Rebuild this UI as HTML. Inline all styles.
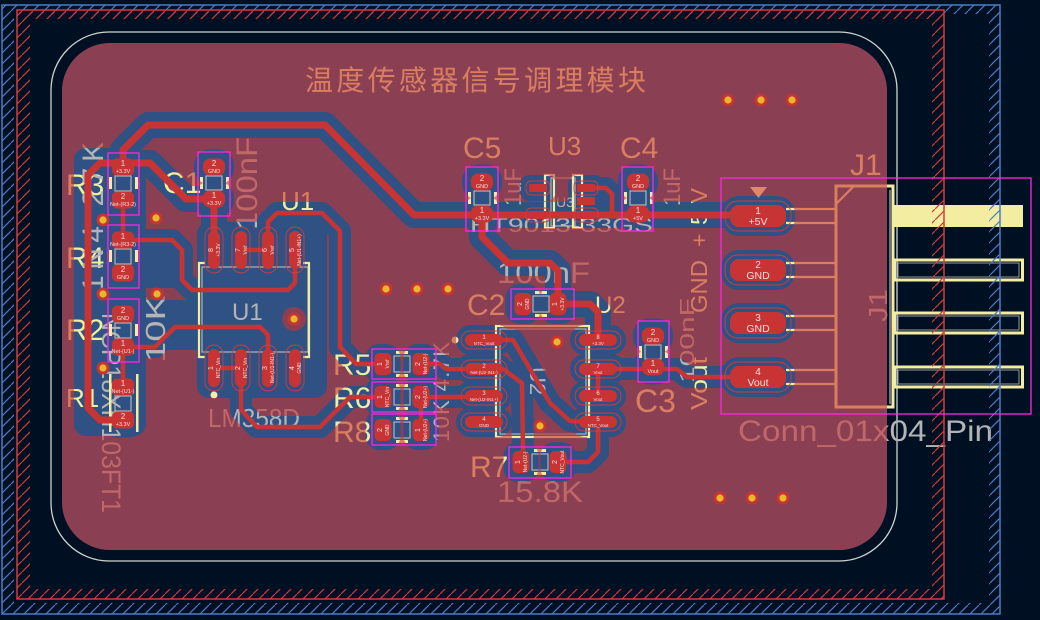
<!DOCTYPE html>
<html><head><meta charset="utf-8"><style>
html,body{margin:0;padding:0;background:#001023;}
svg{display:block;}
text{font-family:"Liberation Sans","Noto Sans CJK SC",sans-serif;}
</style></head><body>
<svg width="1040" height="620" viewBox="0 0 1040 620" xmlns="http://www.w3.org/2000/svg" xmlns:xlink="http://www.w3.org/1999/xlink">
<defs>
<pattern id="hb" patternUnits="userSpaceOnUse" width="11" height="11"><path d="M-2,13 L13,-2" stroke="#4b7cc4" stroke-width="1.2"/></pattern>
<pattern id="hr" patternUnits="userSpaceOnUse" width="11" height="11"><path d="M-2,13 L13,-2" stroke="#d23a3a" stroke-width="1.2"/></pattern>
<g id="thick">
 <path d="M123,167 L123,150 L148,125 L325,125 L414,215 L760,215"/>
 <path d="M123,420 L100,420 L88,408 L88,175 L100,163 L150,163 L186,199 L214,199 L214,250"/>
 <path d="M482,214 L482,237 L508,263 L550,263 L558,271 L558,304"/>
 <path d="M558,304 L590,304 L598,312 L598,340"/>
</g>
<g id="thin">
 <path d="M241,250 L268,250"/>
 <path d="M268,250 L268,222 L277,213 L322,213 L340,231 L340,347 L356,364 L383,364"/>
 <path d="M295,252 L295,283 L288,290 L192,290 L182,280 L182,250 L172,240 L123,240"/>
 <path d="M123,347 L155,347 L175,327 L260,327 L268,335 L268,368"/>
 <path d="M214,368 L241,368"/>
 <path d="M241,368 L241,410 L257,427 L320,427 L350,397 L383,397"/>
 <path d="M421,364 L440,364 L446,369 L503,369 L522,383 L523,450 L521,462"/>
 <path d="M421,397 L484,397"/>
 <path d="M421,397 L421,430"/>
 <path d="M484,340 L513,340 L550,403 L570,421 L598,422"/>
 <path d="M598,422 L598,452 L588,462 L558,462"/>
 <path d="M598,369 L677,369 L687,377 L758,377"/>
 <path d="M598,369 L598,396"/>
 <path d="M123,200 L123,240"/>
 <path d="M123,347 L123,387"/>
 <path d="M586,188 L606,188 L612,194 L612,214"/>
</g>
<g id="pads">
 <rect x="112" y="158.5" width="22" height="17" rx="5"/>
 <rect x="112" y="191.5" width="22" height="17" rx="5"/>
 <rect x="112" y="231.5" width="22" height="17" rx="5"/>
 <rect x="112" y="264.5" width="22" height="17" rx="5"/>
 <rect x="112" y="305.5" width="22" height="17" rx="5"/>
 <rect x="112" y="338.5" width="22" height="17" rx="5"/>
 <rect x="112" y="378.5" width="22" height="17" rx="5"/>
 <rect x="112" y="411.5" width="22" height="17" rx="5"/>
 <rect x="203" y="158.5" width="22" height="17" rx="7"/>
 <rect x="203" y="190.5" width="22" height="17" rx="7"/>
 <rect x="471" y="173.5" width="22" height="17" rx="7"/>
 <rect x="471" y="205.5" width="22" height="17" rx="7"/>
 <rect x="627" y="173.5" width="22" height="17" rx="7"/>
 <rect x="627" y="205.5" width="22" height="17" rx="7"/>
 <rect x="642" y="327.5" width="22" height="17" rx="7"/>
 <rect x="642" y="358.5" width="22" height="17" rx="7"/>
 <rect x="374.5" y="353" width="17" height="22" rx="5"/>
 <rect x="412.5" y="353" width="17" height="22" rx="5"/>
 <rect x="374.5" y="386" width="17" height="22" rx="5"/>
 <rect x="412.5" y="386" width="17" height="22" rx="5"/>
 <rect x="374.5" y="419" width="17" height="22" rx="5"/>
 <rect x="412.5" y="419" width="17" height="22" rx="5"/>
 <rect x="514.5" y="293" width="17" height="22" rx="5"/>
 <rect x="549.5" y="293" width="17" height="22" rx="5"/>
 <rect x="512.5" y="451" width="17" height="22" rx="5"/>
 <rect x="549.5" y="451" width="17" height="22" rx="5"/>
 <rect x="208" y="231" width="12" height="38" rx="6"/>
 <rect x="235" y="231" width="12" height="38" rx="6"/>
 <rect x="262" y="231" width="12" height="38" rx="6"/>
 <rect x="289" y="231" width="12" height="38" rx="6"/>
 <rect x="208" y="349" width="12" height="38" rx="6"/>
 <rect x="235" y="349" width="12" height="38" rx="6"/>
 <rect x="262" y="349" width="12" height="38" rx="6"/>
 <rect x="289" y="349" width="12" height="38" rx="6"/>
 <rect x="465" y="334" width="38" height="12" rx="6"/>
 <rect x="465" y="363" width="38" height="12" rx="6"/>
 <rect x="465" y="390" width="38" height="12" rx="6"/>
 <rect x="465" y="416" width="38" height="12" rx="6"/>
 <rect x="579" y="334" width="38" height="12" rx="6"/>
 <rect x="579" y="363" width="38" height="12" rx="6"/>
 <rect x="579" y="390" width="38" height="12" rx="6"/>
 <rect x="579" y="416" width="38" height="12" rx="6"/>
 <rect x="529" y="184" width="18" height="8" rx="1"/>
 <rect x="529" y="211" width="18" height="8" rx="1"/>
 <rect x="577" y="184" width="18" height="8" rx="1"/>
 <rect x="577" y="197" width="18" height="8" rx="1"/>
 <rect x="577" y="211" width="18" height="8" rx="1"/>
 <rect x="730" y="205" width="56" height="22" rx="9"/>
 <rect x="730" y="259" width="56" height="22" rx="9"/>
 <rect x="730" y="312" width="56" height="22" rx="9"/>
 <rect x="730" y="366" width="56" height="22" rx="9"/>
</g>
<mask id="zm" maskUnits="userSpaceOnUse" x="0" y="0" width="1040" height="620">
 <rect width="1040" height="620" fill="#fff"/>
 <use xlink:href="#thick" fill="none" stroke="#000" stroke-width="26" stroke-linecap="round" stroke-linejoin="round"/>
 <use xlink:href="#thin" fill="none" stroke="#000" stroke-width="22" stroke-linecap="round" stroke-linejoin="round"/>
 <use xlink:href="#pads" fill="#000" stroke="#000" stroke-width="18" stroke-linejoin="round"/>
 <!-- extra cleared regions -->
 <rect x="74" y="148" width="72" height="288" rx="12" fill="#000"/>
 <rect x="140" y="244" width="44" height="44" fill="#000"/>
 <rect x="140" y="300" width="60" height="50" fill="#000"/>
 <rect x="197" y="222" width="130" height="176" rx="12" fill="#000"/>
 <circle cx="294" cy="319" r="12" fill="#fff"/>
</mask>
</defs>

<rect width="1040" height="620" fill="#001023"/>

<!-- board edge -->
<rect x="51" y="32" width="846" height="529" rx="58" ry="58" fill="none" stroke="#d0d2cd" stroke-width="1.3"/>

<!-- B.Cu blue -->
<rect x="62" y="43" width="825" height="507" rx="48" ry="48" fill="#2f5183"/>

<!-- ===== under-zone layers: silk / fab ===== -->
<g>
 <text x="305" y="90" font-size="28" fill="#f2eda1" textLength="341" lengthAdjust="spacing">温度传感器信号调理模块</text>
 <g fill="#f2eda1">
  <text x="66" y="195" font-size="30">R3</text>
  <text x="66" y="268" font-size="30">R4</text>
  <text x="66" y="340" font-size="30">R2</text>
  <text x="66" y="407" font-size="26">R1</text>
  <text x="163" y="193" font-size="30">C1</text>
  <text x="281" y="210" font-size="26">U1</text>
  <text x="333" y="375" font-size="30">R5</text>
  <text x="333" y="408" font-size="30">R6</text>
  <text x="333" y="442" font-size="30">R8</text>
  <text x="467" y="315" font-size="30">C2</text>
  <text x="595" y="313" font-size="24">U2</text>
  <text x="470" y="477" font-size="30">R7</text>
  <text x="635" y="412" font-size="32">C3</text>
  <text x="463" y="158" font-size="30">C5</text>
  <text x="548" y="155" font-size="26">U3</text>
  <text x="620" y="158" font-size="30">C4</text>
  <text x="850" y="175" font-size="30">J1</text>
  <text transform="translate(707,410) rotate(-90)" font-size="23" textLength="53" lengthAdjust="spacingAndGlyphs">Vout</text>
  <text transform="translate(707,313) rotate(-90)" font-size="23" textLength="53" lengthAdjust="spacingAndGlyphs">GND</text>
  <text transform="translate(707,247) rotate(-90)" font-size="23" textLength="59" lengthAdjust="spacing">+5V</text>
 </g>
 <g fill="#b4b4b4">
  <text transform="translate(257,230) rotate(-90)" font-size="30" textLength="93" lengthAdjust="spacingAndGlyphs">100nF</text>
  <text x="232" y="320" font-size="24">U1</text>
  <text x="208" y="427" font-size="26" textLength="92" lengthAdjust="spacingAndGlyphs">LM358D</text>
  <text transform="translate(165,363) rotate(-90)" font-size="28" textLength="68" lengthAdjust="spacingAndGlyphs">10K</text>
  <text transform="translate(103,292) rotate(-90)" font-size="30" textLength="150" lengthAdjust="spacing">1N4.27K</text>
  <text transform="translate(102,313) rotate(90)" font-size="27" textLength="200" lengthAdjust="spacingAndGlyphs">NCP18XH103FT1</text>
  <text transform="translate(449,442) rotate(-90)" font-size="22" textLength="100" lengthAdjust="spacing">10K 4.7K</text>
  <text x="497" y="283" font-size="30" textLength="93" lengthAdjust="spacingAndGlyphs">100nF</text>
  <text transform="translate(530,367) rotate(90)" font-size="22">U2</text>
  <text x="497" y="502" font-size="30" textLength="86" lengthAdjust="spacingAndGlyphs">15.8K</text>
  <text transform="translate(521,206) rotate(-90)" font-size="24" textLength="38" lengthAdjust="spacingAndGlyphs">1uF</text>
  <text transform="translate(680,206) rotate(-90)" font-size="24" textLength="38" lengthAdjust="spacingAndGlyphs">1uF</text>
  <text transform="translate(694,383) rotate(-90)" font-size="20" textLength="85" lengthAdjust="spacingAndGlyphs">100nF</text>
  <text x="470" y="232" font-size="20" textLength="183" lengthAdjust="spacingAndGlyphs">HT9013-33GS</text>
  <text x="556" y="207" font-size="14">U3</text>
  <text x="738" y="441" font-size="30" textLength="255" lengthAdjust="spacingAndGlyphs">Conn_01x04_Pin</text>
  <text transform="translate(887,322) rotate(-90)" font-size="26" textLength="33" lengthAdjust="spacingAndGlyphs">J1</text>
 </g>
 <!-- small part bodies -->
 <g fill="none" stroke="#b4b4b4" stroke-width="1.2">
  <rect x="115" y="176" width="16" height="15"/>
  <rect x="115" y="249" width="16" height="15"/>
  <rect x="115" y="323" width="16" height="15"/>
  <rect x="115" y="396" width="16" height="15"/>
  <rect x="206" y="176" width="16" height="14"/>
  <rect x="474" y="191" width="16" height="14"/>
  <rect x="630" y="191" width="16" height="14"/>
  <rect x="645" y="345" width="16" height="14"/>
  <rect x="394" y="356" width="16" height="16"/>
  <rect x="394" y="389" width="16" height="16"/>
  <rect x="394" y="422" width="16" height="16"/>
  <rect x="533" y="296" width="16" height="16"/>
  <rect x="532" y="454" width="16" height="16"/>
  <rect x="202" y="267" width="106" height="85"/>
  <rect x="500" y="329" width="86" height="105"/>
  <rect x="551" y="178" width="24" height="48"/>
  <line x1="890" y1="190" x2="890" y2="404"/>
 </g>
 <g fill="#f2eda1">
  <rect x="109" y="177" width="3" height="12"/><rect x="135" y="177" width="3" height="12"/>
  <rect x="109" y="250" width="3" height="12"/><rect x="135" y="250" width="3" height="12"/>
  <rect x="109" y="324" width="3" height="12"/><rect x="135" y="324" width="3" height="12"/>
  <rect x="109" y="374" width="2.5" height="58"/><rect x="136" y="374" width="2.5" height="58"/>
  <rect x="200" y="177" width="3" height="12"/><rect x="226" y="177" width="3" height="12"/>
  <rect x="468" y="192" width="3" height="12"/><rect x="494" y="192" width="3" height="12"/>
  <rect x="624" y="192" width="3" height="12"/><rect x="650" y="192" width="3" height="12"/>
  <rect x="639" y="346" width="3" height="12"/><rect x="665" y="346" width="3" height="12"/>
  <rect x="396" y="351" width="12" height="3"/><rect x="396" y="374" width="12" height="3"/>
  <rect x="396" y="384" width="12" height="3"/><rect x="396" y="407" width="12" height="3"/>
  <rect x="396" y="417" width="12" height="3"/><rect x="396" y="440" width="12" height="3"/>
  <rect x="535" y="291" width="12" height="3"/><rect x="535" y="314" width="12" height="3"/>
  <rect x="534" y="449" width="12" height="3"/><rect x="534" y="472" width="12" height="3"/>
  <circle cx="214" cy="395" r="3.5"/>
  <circle cx="455" cy="340" r="3.5"/>
 </g>
 <g fill="none" stroke="#f2eda1" stroke-width="2.2">
  <path d="M205,263 H199 V357 H205"/>
  <path d="M303,263 H309 V357 H303"/>
  <rect x="496" y="326" width="93" height="111"/>
  <rect x="545" y="175" width="9" height="53"/>
  <rect x="573" y="175" width="9" height="53"/>
  <path d="M786,209 H836 M786,223 H836 M786,263 H836 M786,277 H836 M786,316 H836 M786,330 H836 M786,370 H836 M786,384 H836"/>
  <path d="M836,204 L853,187"/>
 </g>
 <rect x="836" y="186" width="57" height="221" fill="none" stroke="#f2eda1" stroke-width="3"/>
 <!-- J1 external pins -->
 <rect x="893" y="205" width="130" height="22" fill="#f2eda1"/>
 <g fill="none" stroke="#f2eda1" stroke-width="3">
  <rect x="894.5" y="260" width="128" height="20"/>
  <rect x="894.5" y="313" width="128" height="20"/>
  <rect x="894.5" y="367" width="128" height="20"/>
 </g>
 <g fill="none" stroke="#9a9a9a" stroke-width="1">
  <rect x="898" y="263" width="121" height="14"/>
  <rect x="898" y="316" width="121" height="14"/>
  <rect x="898" y="370" width="121" height="14"/>
 </g>
</g>

<!-- F.Cu zone -->
<rect x="62" y="43" width="825" height="507" rx="48" ry="48" fill="#c83434" fill-opacity="0.6" mask="url(#zm)"/>

<!-- traces -->
<use xlink:href="#thick" fill="none" stroke="#c83434" stroke-width="7" stroke-linecap="round" stroke-linejoin="round"/>
<use xlink:href="#thin" fill="none" stroke="#c83434" stroke-width="4.5" stroke-linecap="round" stroke-linejoin="round"/>
<!-- pads -->
<use xlink:href="#pads" fill="#c83434"/>
<!-- pad outlines -->
<g fill="none" stroke="#d23c3c" stroke-width="0.9">
 <rect x="205" y="227" width="18" height="46" rx="9"/><rect x="232" y="227" width="18" height="46" rx="9"/>
 <rect x="259" y="227" width="18" height="46" rx="9"/><rect x="286" y="227" width="18" height="46" rx="9"/>
 <rect x="205" y="345" width="18" height="46" rx="9"/><rect x="232" y="345" width="18" height="46" rx="9"/>
 <rect x="259" y="345" width="18" height="46" rx="9"/><rect x="286" y="345" width="18" height="46" rx="9"/>
 <rect x="461" y="331" width="46" height="18" rx="9"/><rect x="461" y="360" width="46" height="18" rx="9"/>
 <rect x="461" y="387" width="46" height="18" rx="9"/><rect x="461" y="413" width="46" height="18" rx="9"/>
 <rect x="575" y="331" width="46" height="18" rx="9"/><rect x="575" y="360" width="46" height="18" rx="9"/>
 <rect x="575" y="387" width="46" height="18" rx="9"/><rect x="575" y="413" width="46" height="18" rx="9"/>
 <rect x="725" y="201" width="66" height="30" rx="13"/><rect x="725" y="255" width="66" height="30" rx="13"/>
 <rect x="725" y="308" width="66" height="30" rx="13"/><rect x="725" y="362" width="66" height="30" rx="13"/>
 <rect x="526" y="181" width="24" height="14" rx="5"/><rect x="526" y="208" width="24" height="14" rx="5"/>
 <rect x="574" y="181" width="24" height="14" rx="5"/><rect x="574" y="208" width="24" height="14" rx="5"/>
</g>
<!-- J1 pin1 marker -->
<polygon points="750,187 767,187 758.5,198" fill="#e08a62"/>

<!-- vias -->
<g>
 <g fill="#c83434">
  <circle cx="728" cy="100" r="6.5"/><circle cx="761" cy="100" r="6.5"/><circle cx="792" cy="100" r="6.5"/>
  <circle cx="386" cy="289" r="6.5"/><circle cx="417" cy="289" r="6.5"/><circle cx="448" cy="289" r="6.5"/>
  <circle cx="103" cy="220" r="6.5"/><circle cx="156" cy="218" r="6.5"/><circle cx="103" cy="294" r="6.5"/>
  <circle cx="157" cy="294" r="6.5"/><circle cx="103" cy="368" r="6.5"/><circle cx="294" cy="319" r="6.5"/>
  <circle cx="557" cy="342" r="6.5"/><circle cx="540" cy="426" r="6.5"/>
  <circle cx="720" cy="498" r="6.5"/><circle cx="752" cy="498" r="6.5"/><circle cx="783" cy="498" r="6.5"/>
 </g>
 <g fill="#e6b82a">
  <circle cx="728" cy="100" r="3.6"/><circle cx="761" cy="100" r="3.6"/><circle cx="792" cy="100" r="3.6"/>
  <circle cx="386" cy="289" r="3.6"/><circle cx="417" cy="289" r="3.6"/><circle cx="448" cy="289" r="3.6"/>
  <circle cx="103" cy="220" r="3.6"/><circle cx="156" cy="218" r="3.6"/><circle cx="103" cy="294" r="3.6"/>
  <circle cx="157" cy="294" r="3.6"/><circle cx="103" cy="368" r="3.6"/><circle cx="294" cy="319" r="3.6"/>
  <circle cx="557" cy="342" r="3.6"/><circle cx="540" cy="426" r="3.6"/>
  <circle cx="720" cy="498" r="3.6"/><circle cx="752" cy="498" r="3.6"/><circle cx="783" cy="498" r="3.6"/>
 </g>
</g>

<!-- pad labels -->
<g fill="#f4dede" text-anchor="middle">
 <g font-size="8">
  <text x="123" y="166">1</text><text x="123" y="199">2</text>
  <text x="123" y="239">1</text><text x="123" y="272">2</text>
  <text x="123" y="313">2</text><text x="123" y="346">1</text>
  <text x="123" y="386">1</text><text x="123" y="419">2</text>
  <text x="214" y="166">2</text><text x="214" y="198">1</text>
  <text x="482" y="181">2</text><text x="482" y="213">1</text>
  <text x="638" y="181">2</text><text x="638" y="213">1</text>
  <text x="653" y="335">2</text><text x="653" y="366">1</text>
 </g>
 <g font-size="5.5">
  <text x="123" y="173">+3.3V</text><text x="123" y="206">Net-(R3-2)</text>
  <text x="123" y="246">Net-(R3-2)</text><text x="123" y="279">GND</text>
  <text x="123" y="320">GND</text><text x="123" y="353">Net-(U1-)</text>
  <text x="123" y="393">Net-(U1-)</text><text x="123" y="426">+3.3V</text>
  <text x="214" y="173">GND</text><text x="214" y="205">+3.3V</text>
  <text x="482" y="188">GND</text><text x="482" y="220">+3.3V</text>
  <text x="638" y="188">GND</text><text x="638" y="220">+5V</text>
  <text x="653" y="342">GND</text><text x="653" y="373">Vout</text>
 </g>
 <g font-size="10">
  <text x="758" y="214">1</text><text x="758" y="268">2</text><text x="758" y="321">3</text><text x="758" y="375">4</text>
 </g>
 <g font-size="10.5">
  <text x="758" y="225">+5V</text><text x="758" y="279">GND</text><text x="758" y="332">GND</text><text x="758" y="386">Vout</text>
 </g>
 <g font-size="6">
  <text x="484" y="339">1</text><text x="484" y="368">2</text><text x="484" y="395">3</text><text x="484" y="421">4</text>
  <text x="598" y="339">8</text><text x="598" y="368">7</text><text x="598" y="395">6</text><text x="598" y="421">5</text>
 </g>
 <g font-size="4.5">
  <text x="484" y="345">NTC_Vout</text><text x="484" y="374">Net-(U2-IN1-)</text><text x="484" y="401">Net-(U2-IN1+)</text><text x="484" y="427">GND</text>
  <text x="598" y="345">+3.3V</text><text x="598" y="374">Vout</text><text x="598" y="401">Vout</text><text x="598" y="427">NTC_Vout</text>
 </g>
 <g font-size="7">
  <text transform="translate(383,364) rotate(-90)" y="-1">1</text>
  <text transform="translate(421,364) rotate(-90)" y="-1">2</text>
  <text transform="translate(383,397) rotate(-90)" y="-1">1</text>
  <text transform="translate(421,397) rotate(-90)" y="-1">2</text>
  <text transform="translate(383,430) rotate(-90)" y="-1">2</text>
  <text transform="translate(421,430) rotate(-90)" y="-1">1</text>
  <text transform="translate(523,304) rotate(-90)" y="-1">2</text>
  <text transform="translate(558,304) rotate(-90)" y="-1">1</text>
  <text transform="translate(521,462) rotate(-90)" y="-1">1</text>
  <text transform="translate(558,462) rotate(-90)" y="-1">2</text>
  <text transform="translate(214,250) rotate(-90)" y="-1">8</text>
  <text transform="translate(241,250) rotate(-90)" y="-1">7</text>
  <text transform="translate(268,250) rotate(-90)" y="-1">6</text>
  <text transform="translate(295,250) rotate(-90)" y="-1">5</text>
  <text transform="translate(214,368) rotate(-90)" y="-1">1</text>
  <text transform="translate(241,368) rotate(-90)" y="-1">2</text>
  <text transform="translate(268,368) rotate(-90)" y="-1">3</text>
  <text transform="translate(295,368) rotate(-90)" y="-1">4</text>
 </g>
 <g font-size="5">
  <text transform="translate(383,364) rotate(-90)" y="6">Vref</text>
  <text transform="translate(421,364) rotate(-90)" y="6">Net-(U2-)</text>
  <text transform="translate(383,397) rotate(-90)" y="6">NTC_Vin</text>
  <text transform="translate(421,397) rotate(-90)" y="6">Net-(U2+)</text>
  <text transform="translate(383,430) rotate(-90)" y="6">GND</text>
  <text transform="translate(421,430) rotate(-90)" y="6">Net-(U2+)</text>
  <text transform="translate(523,304) rotate(-90)" y="6">GND</text>
  <text transform="translate(558,304) rotate(-90)" y="6">+3.3V</text>
  <text transform="translate(521,462) rotate(-90)" y="6">Net-(U2-)</text>
  <text transform="translate(558,462) rotate(-90)" y="6">NTC_Vout</text>
  <text transform="translate(214,250) rotate(-90)" y="6">+3.3V</text>
  <text transform="translate(241,250) rotate(-90)" y="6">Vref</text>
  <text transform="translate(268,250) rotate(-90)" y="6">Vref</text>
  <text transform="translate(295,250) rotate(-90)" y="6">Net-(U1-IN1+)</text>
  <text transform="translate(214,368) rotate(-90)" y="6">NTC_Vin</text>
  <text transform="translate(241,368) rotate(-90)" y="6">NTC_Vin</text>
  <text transform="translate(268,368) rotate(-90)" y="6">Net-(U1-IN1-)</text>
  <text transform="translate(295,368) rotate(-90)" y="6">GND</text>
 </g>
</g>

<!-- hatched keep-out borders -->
<path d="M2,5 H1000 V614 H2 Z M14,14 H989 V603 H14 Z" fill="url(#hb)" fill-rule="evenodd"/>
<rect x="2" y="5" width="998" height="609" fill="none" stroke="#4b7dc3" stroke-width="1.5"/>
<path d="M17,10 H944 V599 H17 Z M30,19 H932 V589 H30 Z" fill="url(#hr)" fill-rule="evenodd"/>
<rect x="17" y="10" width="927" height="589" fill="none" stroke="#d43c3c" stroke-width="1.5"/>

<!-- courtyards -->
<g fill="none" stroke="#ff26e2" stroke-width="1.3">
 <rect x="108" y="153" width="31" height="62"/>
 <rect x="108" y="225" width="31" height="63"/>
 <rect x="108" y="299" width="31" height="63"/>
 <rect x="198" y="152" width="32" height="64"/>
 <rect x="466" y="167" width="32" height="64"/>
 <rect x="622" y="167" width="31" height="64"/>
 <rect x="638" y="321" width="31" height="61"/>
 <rect x="372" y="349" width="64" height="30"/>
 <rect x="372" y="382" width="64" height="30"/>
 <rect x="372" y="414" width="64" height="31"/>
 <rect x="511" y="289" width="63" height="30"/>
 <rect x="509" y="447" width="62" height="31"/>
 <rect x="721" y="178" width="310" height="236"/>
</g>
</svg>
</body></html>
